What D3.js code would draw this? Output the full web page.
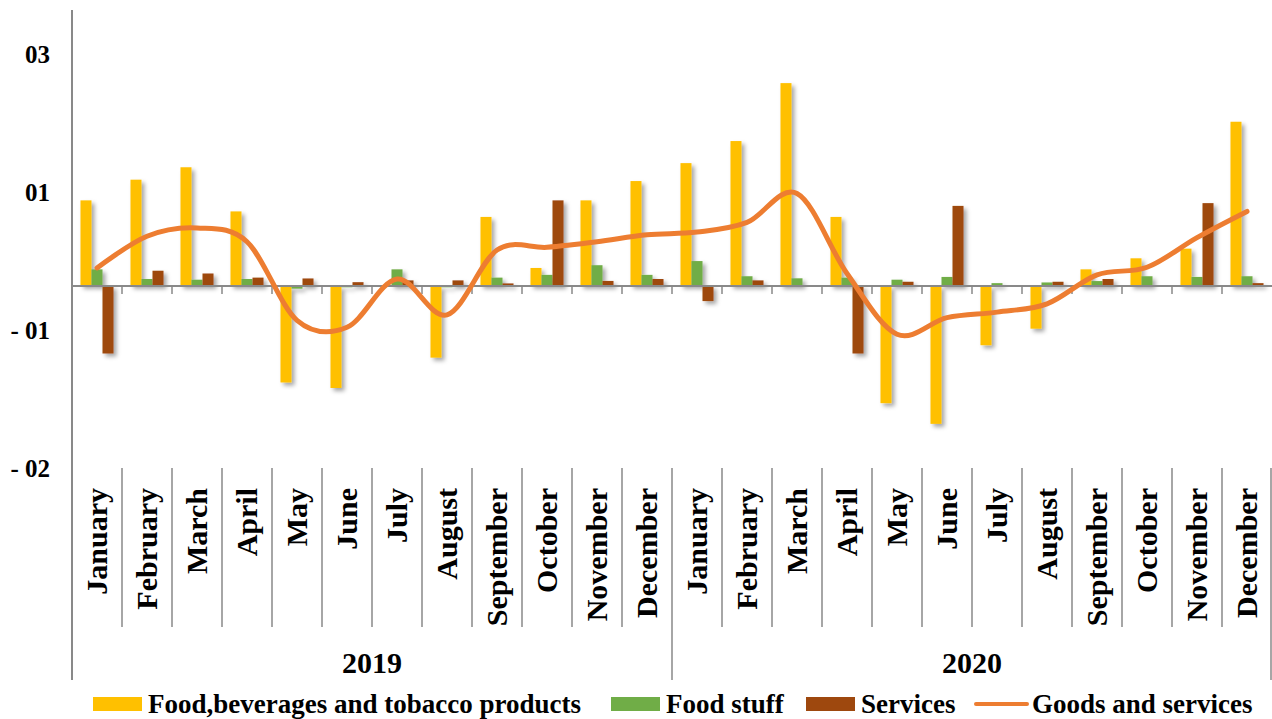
<!DOCTYPE html>
<html>
<head>
<meta charset="utf-8">
<script src="https://cdn.jsdelivr.net/npm/d3@7/dist/d3.min.js"></script>
<style>
  body { margin: 0; background: #fff; }
  svg text { font-family: "Liberation Serif", "Times New Roman", serif; font-weight: bold; fill: #000; }
</style>
</head>
<body>
<div id="chart"></div>
<script>
var months = ["January", "February", "March", "April", "May", "June", "July",
  "August", "September", "October", "November", "December"];
var years = ["2019", "2020"];

// values (same unit for all series)
var foodBev = [0.62, 0.77, 0.86, 0.54, -0.70, -0.74, 0, -0.52, 0.50, 0.13, 0.62, 0.76,
  0.89, 1.05, 1.47, 0.50, -0.85, -1.00, -0.43, -0.31, 0.12, 0.20, 0.27, 1.19];
var foodStuff = [0.12, 0.05, 0.045, 0.05, -0.02, -0.01, 0.12, -0.01, 0.06, 0.08, 0.15, 0.08,
  0.18, 0.07, 0.055, 0.06, 0.045, 0.065, 0.02, 0.025, 0.035, 0.07, 0.065, 0.07];
var services = [-0.49, 0.11, 0.09, 0.06, 0.054, 0.027, 0.04, 0.04, 0.018, 0.62, 0.036, 0.05,
  -0.11, 0.04, 0, -0.49, 0.03, 0.58, 0, 0.03, 0.05, 0, 0.60, 0.02];
var goods = [0.13, 0.36, 0.42, 0.32, -0.25, -0.30, 0.05, -0.21, 0.26, 0.28, 0.32, 0.37,
  0.39, 0.46, 0.67, 0.09, -0.35, -0.23, -0.19, -0.13, 0.08, 0.135, 0.35, 0.54];

var tickValues = [1.68, 0.68, -0.32, -1.32];
var tickLabels = ["03", "01", "- 01", "- 02"];

var seriesNames = ["Food,beverages and tobacco products", "Food stuff", "Services", "Goods and services"];
var colors = ["#FFC000", "#70AD47", "#9E480E", "#ED7D31"];

var width = 1272, height = 719;
var svg = d3.select("#chart").append("svg")
  .attr("width", width)
  .attr("height", height);

var defs = svg.append("defs");
defs.append("filter")
  .attr("id", "shadow")
  .attr("x", "-50%").attr("y", "-20%").attr("width", "200%").attr("height", "140%")
  .append("feDropShadow")
  .attr("dx", 3).attr("dy", 3)
  .attr("stdDeviation", 2)
  .attr("flood-color", "#000")
  .attr("flood-opacity", 0.35);

// categories: 24 months
var cats = d3.range(24);
var x = d3.scaleBand().domain(cats).range([72, 1272]).paddingInner(0).paddingOuter(0);
var xs = d3.scaleBand().domain([0, 1, 2]).range([0, x.bandwidth()]).paddingInner(0).paddingOuter(0.77);
var y = d3.scaleLinear().domain([-1.32, 2.0]).range([468, 10]);

var grey = "#898989";

// y axis labels (no line from the axis generator; just text)
var yAxis = svg.append("g")
  .attr("transform", "translate(50,0)")
  .call(d3.axisLeft(y).tickValues(tickValues).tickSize(0).tickPadding(0)
    .tickFormat(function (d, i) { return tickLabels[i]; }));
yAxis.select(".domain").remove();
yAxis.selectAll("text")
  .attr("font-size", "25px")
  .attr("dy", "0.34em")
  .style("font-family", "'Liberation Serif', serif")
  .style("font-weight", "bold");

// bars
var barData = [foodBev, foodStuff, services];
var bars = svg.append("g").attr("filter", "url(#shadow)");
barData.forEach(function (vals, s) {
  bars.selectAll(".bar" + s)
    .data(vals)
    .enter()
    .append("rect")
    .attr("class", "bar" + s)
    .attr("x", function (d, i) { return x(i) + xs(s); })
    .attr("y", function (d) { return y(Math.max(0, d)); })
    .attr("width", xs.bandwidth())
    .attr("height", function (d) { return Math.abs(y(d) - y(0)); })
    .attr("fill", colors[s]);
});

// zero line + small ticks
svg.append("line")
  .attr("x1", 72).attr("x2", 1272)
  .attr("y1", y(0)).attr("y2", y(0))
  .attr("stroke", grey).attr("stroke-width", 2);
svg.selectAll(".ztick")
  .data(cats.slice(1))
  .enter()
  .append("line")
  .attr("x1", function (d) { return x(d); })
  .attr("x2", function (d) { return x(d); })
  .attr("y1", y(0)).attr("y2", y(0) + 8)
  .attr("stroke", grey).attr("stroke-width", 1.5);

// smooth line
var line = d3.line()
  .x(function (d, i) { return x(i) + x.bandwidth() / 2; })
  .y(function (d) { return y(d); })
  .curve(d3.curveCardinal.tension(0));
svg.append("path")
  .datum(goods)
  .attr("d", line)
  .attr("fill", "none")
  .attr("stroke", colors[3])
  .attr("stroke-width", 5)
  .attr("stroke-linecap", "round");

// left axis line
svg.append("line")
  .attr("x1", 72).attr("x2", 72)
  .attr("y1", 10).attr("y2", 680)
  .attr("stroke", grey).attr("stroke-width", 2);

// category separators
svg.selectAll(".sep")
  .data(d3.range(1, 25))
  .enter()
  .append("line")
  .attr("x1", function (d) { return d < 24 ? x(d) : 1271; })
  .attr("x2", function (d) { return d < 24 ? x(d) : 1271; })
  .attr("y1", 468)
  .attr("y2", function (d) { return d % 12 === 0 ? 680 : 627; })
  .attr("stroke", grey).attr("stroke-width", 1.5);

// month labels
svg.selectAll(".month")
  .data(cats)
  .enter()
  .append("text")
  .attr("transform", function (d) {
    return "translate(" + (x(d) + x.bandwidth() / 2) + ",488) rotate(-90)";
  })
  .attr("dy", "0.33em")
  .attr("text-anchor", "end")
  .attr("font-size", "30px")
  .text(function (d) { return months[d % 12]; });

// year labels
svg.selectAll(".year")
  .data(years)
  .enter()
  .append("text")
  .attr("x", function (d, i) { return x(i * 12) + 6 * x.bandwidth(); })
  .attr("y", 673)
  .attr("text-anchor", "middle")
  .attr("font-size", "30px")
  .text(function (d) { return d; });

// legend
var legendX = [93, 611, 806, 975];
var legend = svg.append("g");
seriesNames.forEach(function (name, i) {
  var g = legend.append("g").attr("transform", "translate(" + legendX[i] + ",0)");
  if (i < 3) {
    g.append("rect")
      .attr("x", 0).attr("y", 697)
      .attr("width", 49).attr("height", 14)
      .attr("fill", colors[i]);
  } else {
    g.append("line")
      .attr("x1", 1).attr("x2", 52)
      .attr("y1", 704).attr("y2", 704)
      .attr("stroke", colors[i]).attr("stroke-width", 4)
      .attr("stroke-linecap", "round");
  }
  g.append("text")
    .attr("x", i < 3 ? 55 : 57)
    .attr("y", 713)
    .attr("font-size", "27px")
    .text(name);
});
</script>
</body>
</html>
